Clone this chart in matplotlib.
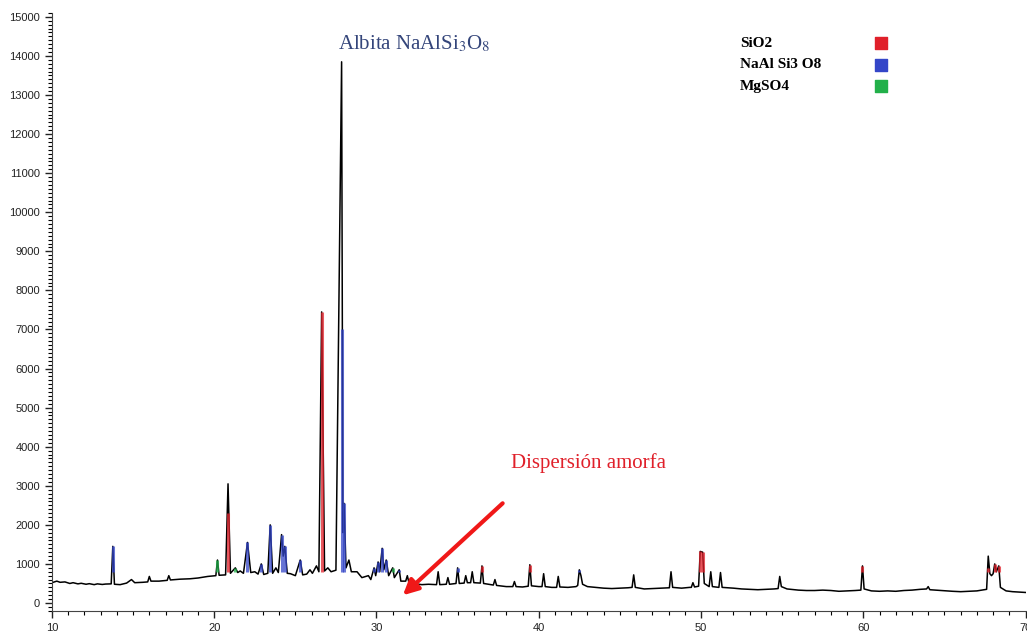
import numpy as np
import matplotlib
matplotlib.use("Agg")
import matplotlib.pyplot as plt
from matplotlib.ticker import MultipleLocator

plt.rcParams["mathtext.fontset"] = "stix"

two_theta = [
    10.0, 10.3, 10.5, 10.8, 11.1, 11.3, 11.6, 11.8, 12.1, 12.3, 12.6, 12.8, 13.1, 13.3, 13.65,
    13.75, 13.85, 14.2, 14.6, 14.9, 15.1, 15.6, 15.9, 16.0, 16.1, 16.6, 17.1, 17.2, 17.3, 17.9,
    18.5, 19.0, 19.6, 20.1, 20.2, 20.3, 20.7, 20.85,
    21.0, 21.3, 21.45, 21.6, 21.8, 22.05, 22.25, 22.5, 22.7, 22.9, 23.05, 23.3, 23.45, 23.6, 23.8,
    23.95, 24.15, 24.25, 24.35, 24.5, 24.7, 25.0, 25.3, 25.45, 25.7, 25.9, 26.05, 26.3, 26.45, 26.62,
    26.8, 27.0, 27.2, 27.5, 27.85, 27.93, 28.0, 28.12, 28.3, 28.45, 28.8, 29.1, 29.5, 29.65, 29.85,
    29.95, 30.1, 30.2, 30.35, 30.45, 30.6, 30.75, 31.0, 31.1, 31.4, 31.5, 31.8, 31.9, 32.0, 32.4,
    32.8, 33.2, 33.7, 33.8, 33.9, 34.3, 34.4, 34.5, 34.9, 35.0, 35.1, 35.4, 35.5, 35.6, 35.8,
    35.9, 36.0, 36.4, 36.5, 36.6, 37.2, 37.3, 37.4, 38.0, 38.4, 38.5, 38.6, 39.0, 39.35, 39.45,
    39.55, 40.0, 40.2, 40.3, 40.4, 40.8, 41.1, 41.2, 41.3, 41.8, 42.3, 42.4, 42.5, 42.6, 42.7,
    43.0, 43.5, 44.0, 44.5, 45.0, 45.5, 45.75, 45.85, 45.95, 46.5, 47.0, 47.5, 48.05, 48.15, 48.25,
    48.8, 49.3, 49.4, 49.5, 49.6, 49.85, 49.95, 50.1, 50.2, 50.5, 50.6, 50.7, 51.1, 51.2, 51.3,
    52.0, 52.5, 53.0, 53.5, 54.0, 54.5, 54.75, 54.85, 54.95, 55.3, 56.0, 56.5, 57.0, 57.5, 58.0,
    58.5, 59.0, 59.5, 59.85, 59.95, 60.05, 60.5, 61.0, 61.5, 62.0, 62.5, 63.0, 63.5, 63.9, 64.0,
    64.1, 64.8, 65.5, 66.0, 66.5, 67.0, 67.6, 67.7, 67.8, 67.9, 68.0, 68.1, 68.2, 68.35, 68.45,
    68.8, 69.2, 69.6, 70.0,
]
counts = [
    520, 560, 530, 540, 500, 520, 490, 505, 480, 495, 470, 490, 475, 485, 490,
    1450, 480, 470, 510, 600, 520, 530, 540, 680, 560, 560, 580, 700, 590, 610,
    620, 640, 680, 700, 1100, 710, 720, 3050,
    760, 900, 780, 820, 760, 1550, 780, 800, 740, 1000, 730, 760, 2000, 760, 900,
    780, 1750, 1200, 1450, 760, 750, 700, 1100, 720, 740, 850, 760, 950, 800, 7450,
    820, 900, 800, 840, 13850, 1800, 2550, 900, 1100, 800, 800, 650, 700, 600, 900,
    700, 1050, 800, 1400, 850, 1100, 700, 900, 650, 850, 560, 560, 700, 520, 490,
    470, 480, 470, 800, 470, 480, 650, 480, 500, 900, 500, 510, 700, 520, 520,
    800, 520, 510, 950, 500, 460, 600, 450, 420, 420, 550, 420, 410, 430, 980,
    440, 420, 420, 750, 420, 400, 400, 680, 410, 400, 420, 450, 850, 700, 480,
    420, 400, 380, 370, 380, 390, 400, 720, 400, 360, 370, 380, 390, 800, 400,
    380, 400, 400, 520, 410, 430, 1320, 1300, 500, 420, 800, 420, 400, 780, 400,
    380, 360, 350, 340, 350, 360, 370, 680, 420, 360, 330, 320, 320, 330, 320,
    300, 310, 320, 330, 950, 360, 310, 300, 310, 300, 320, 330, 350, 360, 420,
    340, 320, 300, 290, 300, 310, 350, 1200, 750, 700, 750, 1000, 800, 950, 400,
    310, 290, 280, 270,
]

# phase identification sticks
sio2_x = [20.85, 26.62, 36.5, 39.45, 40.3, 49.95, 50.1, 54.85, 59.95, 64.0, 67.7, 68.1, 68.35]
sio2_h = [2300, 7450, 950, 980, 750, 1320, 1300, 680, 950, 420, 900, 1000, 950]
albite_x = [13.75, 22.05, 22.9, 23.45, 24.15, 24.35, 25.3, 27.85, 28.0, 29.85, 30.1, 30.35, 30.6,
            31.4, 35.0, 42.5, 48.15, 50.6, 51.2]
albite_h = [1450, 1550, 1000, 2000, 1750, 1450, 1100, 7000, 2550, 900, 1050, 1400, 1100,
            850, 900, 850, 800, 800, 780]
mgso4_x = [16.0, 17.2, 20.2, 21.3, 31.0]
mgso4_h = [680, 700, 1100, 900, 900]

phases = ["SiO2", "NaAl Si3 O8", "MgSO4"]
phase_colors = ["#e0202a", "#3446c8", "#22b04a"]

fig = plt.figure(figsize=(10.27, 6.32), dpi=100)
ax = fig.add_axes([0.0506, 0.0335, 0.948, 0.946])

ax.plot(two_theta, counts, color="black", lw=1.1, zorder=2)

for xs, hs, c in zip([sio2_x, albite_x, mgso4_x], [sio2_h, albite_h, mgso4_h], phase_colors):
    base = np.interp(xs, two_theta, [min(v, 800) for v in counts])
    ax.vlines(xs, base, hs, colors=c, lw=2.2, alpha=0.75, zorder=3)

ax.set_xlim(10, 70)
ax.set_ylim(-200, 15100)
ax.xaxis.set_major_locator(MultipleLocator(10))
ax.xaxis.set_minor_locator(MultipleLocator(1))
ax.yaxis.set_major_locator(MultipleLocator(1000))
ax.yaxis.set_minor_locator(MultipleLocator(100))
ax.tick_params(which="major", length=5, width=1, labelsize=8, colors="#222222")
ax.tick_params(which="minor", length=3, width=0.8)
for lab in ax.get_xticklabels() + ax.get_yticklabels():
    lab.set_family("Liberation Sans")
ax.spines["top"].set_visible(False)
ax.spines["right"].set_visible(False)
ax.spines["left"].set_color("#444444")
ax.spines["bottom"].set_color("#444444")

ax.text(27.6, 14300, r"Albita NaAlSi$_\mathrm{3}$O$_\mathrm{8}$", family="Liberation Serif",
        fontsize=15, color="#34457a", va="center", ha="left")
ax.text(38.3, 3580, "Dispersión amorfa", family="Liberation Serif",
        fontsize=15, color="#e0202a", va="center", ha="left")
ax.annotate("", xy=(31.5, 150), xytext=(37.9, 2600),
            arrowprops=dict(arrowstyle="-|>,head_length=0.9,head_width=0.45",
                            color="#f01818", lw=3))

for i, (name, c) in enumerate(zip(phases, phase_colors)):
    yv = 14330 - i * 550
    ax.text(52.4, yv, name, family="Liberation Serif", fontsize=11, fontweight="bold",
            va="center", ha="left")
    ax.scatter([61.1], [yv], marker="s", s=80, color=c, clip_on=False)

fig.savefig("out.png", dpi=100)
